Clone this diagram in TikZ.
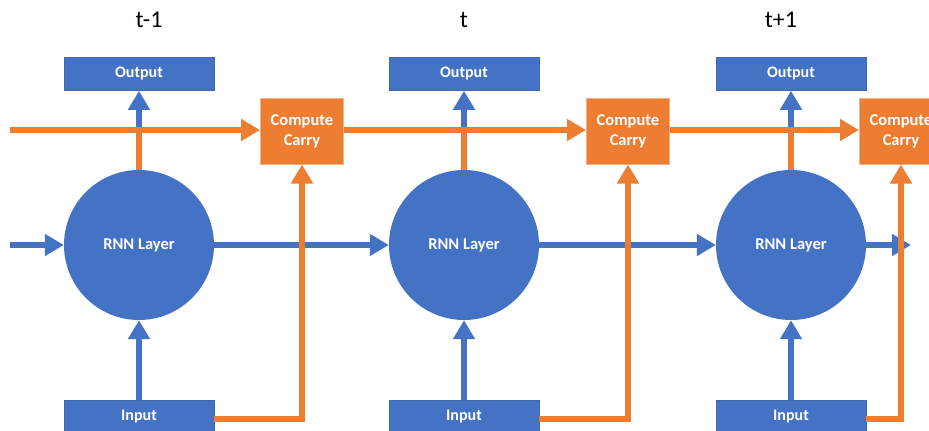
\documentclass[tikz,border=0pt]{standalone}
\usepackage{fontspec}
\setmainfont{Carlito}
\usetikzlibrary{arrows.meta}
\definecolor{oblue}{HTML}{4472C4}
\definecolor{oorange}{HTML}{ED7D31}
\definecolor{oorangeb}{HTML}{F4B183}
\definecolor{obluedk}{HTML}{3F68B3}
\begin{document}
\begin{tikzpicture}[x=1pt,y=-1pt,
  bluebox/.style={rectangle,fill=oblue,draw=obluedk,line width=0.6pt,minimum width=150pt,minimum height=33pt,inner sep=0pt,text=white,font=\fontsize{16}{16}\selectfont\bfseries},
  carrybox/.style={rectangle,fill=oorange,draw=oorangeb,line width=1pt,minimum width=83pt,minimum height=66pt,inner sep=0pt,text=white,align=center,font=\fontsize{16.5}{20}\selectfont\bfseries},
  rnnnode/.style={circle,fill=oblue,minimum size=150pt,inner sep=0pt,text=white,font=\fontsize{16.5}{16.5}\selectfont\bfseries},
  title/.style={font=\fontsize{24}{24}\selectfont},
  bline/.style={draw=oblue,line width=6pt},
  oline/.style={draw=oorange,line width=6pt},
  tipb/.style={-{Triangle[length=19pt,width=21pt]}}
]
\useasboundingbox (0,0) rectangle (929,431);
\clip (0,0) rectangle (929,431);
\fill[white] (0,0) rectangle (929,431);

\foreach \i/\cx/\tx/\lab/\kx in {1/139/149/t-1/302,2/464/464/t/628,3/791/781/t+1/901}{
  \node[title] (t\i) at (\tx,20) {\lab};
  \node[bluebox] (out\i) at (\cx,74) {Output};
  \node[rnnnode] (rnn\i) at (\cx,245) {RNN Layer};
  \node[bluebox,minimum height=34pt] (in\i) at (\cx,417) {Input};
  \node[carrybox] (carry\i) at (\kx,131) {Compute\\Carry};
}
\coordinate (startO) at (10,130);
\coordinate (startB) at (10,245);
\coordinate (endB) at (911,245);

% blue connectors
\foreach \i in {1,2,3}{
  \draw[bline,tipb] (rnn\i.north) -- (out\i.south);
  \draw[bline,tipb] (in\i.north) -- (rnn\i.south);
}
\draw[bline,tipb] (startB) -- (rnn1.west);
\draw[bline,tipb] (rnn1.east) -- (rnn2.west);
\draw[bline,tipb] (rnn2.east) -- (rnn3.west);
\draw[bline,tipb] (rnn3.east) -- (endB);

% orange connectors
\draw[oline,tipb] (startO) -- (startO -| carry1.west);
\draw[oline,tipb] (carry1.east |- startO) -- (startO -| carry2.west);
\draw[oline,tipb] (carry2.east |- startO) -- (startO -| carry3.west);
\foreach \i in {1,2,3}{
  \draw[oline] (rnn\i.north) -- (rnn\i.north |- startO);
  \draw[oline,tipb] ([yshift=-2pt]in\i.east) -| (carry\i.south);
}
\end{tikzpicture}
\end{document}
